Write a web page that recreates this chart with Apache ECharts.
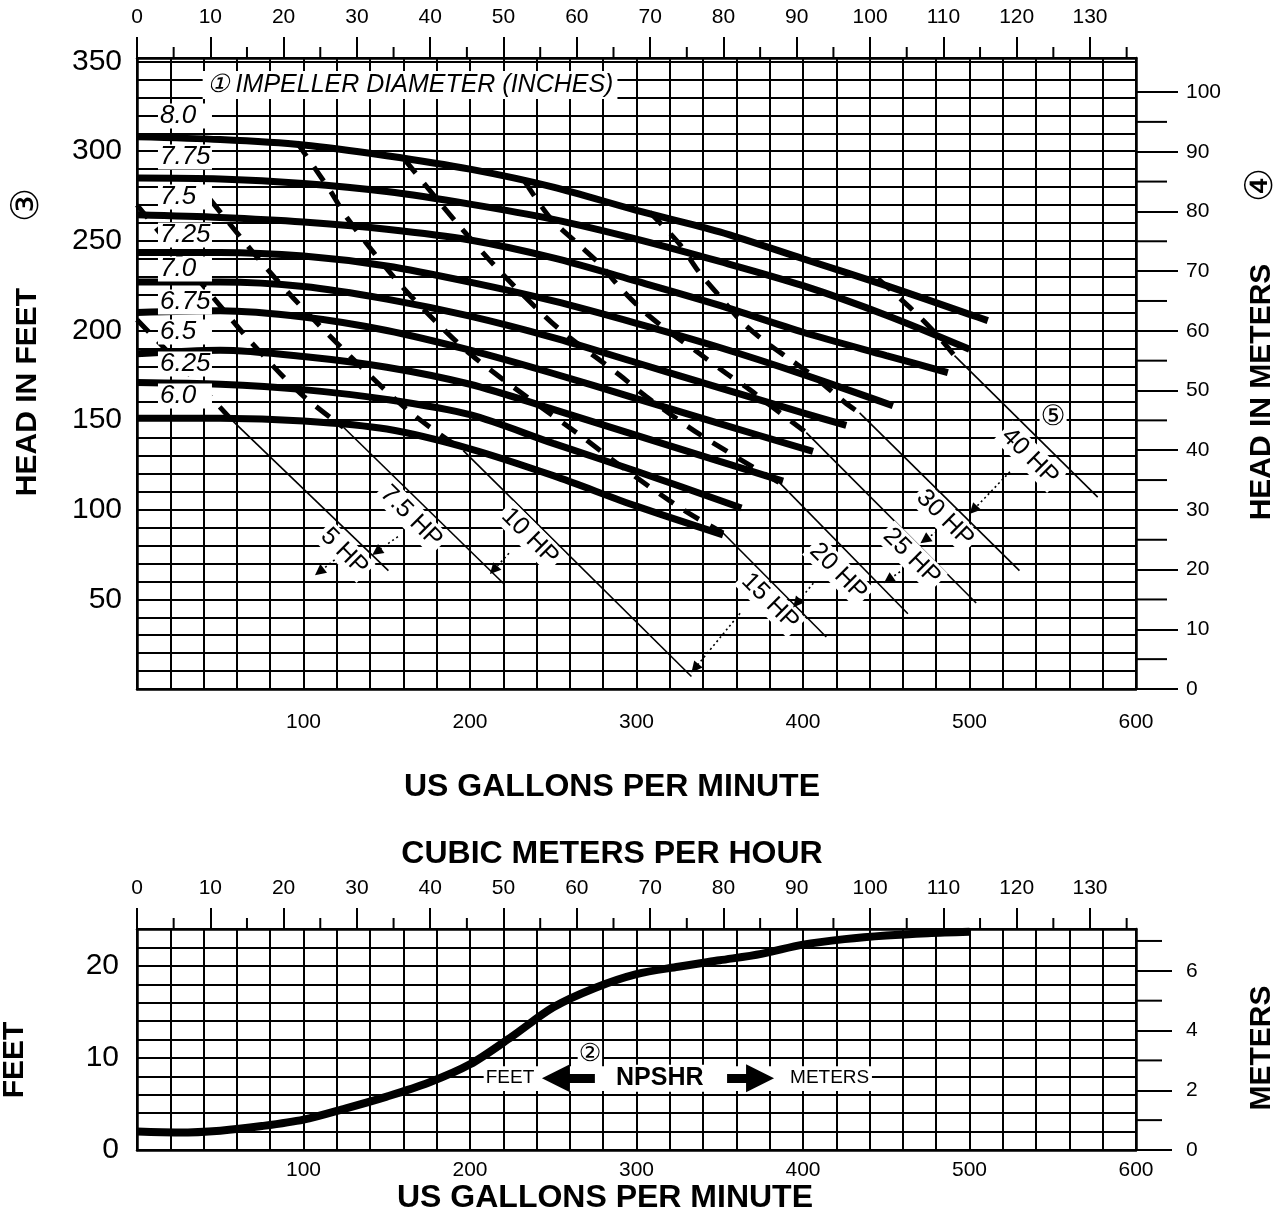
<!DOCTYPE html>
<html><head><meta charset="utf-8">
<script src="https://cdn.jsdelivr.net/npm/echarts@6/dist/echarts.min.js"></script>
<style>html,body{margin:0;padding:0;background:#fff}#c{width:1283px;height:1214px}</style>
</head><body><div id="c"></div>
<script>
// ---------- axis ranges / tick labels ----------
const GPM_PER_M3H = 4.40287;
const gpmMax = 600;
const headFtMax = 352;
const headMMax = 105.7;
const npshFtMax = 24;
const npshMMax = 7.4;
const gpmLabels = [100, 200, 300, 400, 500, 600];
const m3hMajor = [0,10,20,30,40,50,60,70,80,90,100,110,120,130];
const m3hMinor = [5,15,25,35,45,55,65,75,85,95,105,115,125,135];
const headFtLabels = [50,100,150,200,250,300,350];
const headMMajor = [0,10,20,30,40,50,60,70,80,90,100];
const headMMinor = [5,15,25,35,45,55,65,75,85,95];
const npshFtLabels = [0,10,20];
const npshMMajor = [0,2,4,6];
const npshMMinor = [1,3,5,7];

// ---------- impeller curves [GPM, feet] ----------
const impellerNames = ['8.0','7.75','7.5','7.25','7.0','6.75','6.5','6.25','6.0'];
const imp80  = [[0,308],[50,306.5],[100,303.5],[150,297.5],[200,290],[250,280],[300,267],[350,255],[400,240],[450,225],[500,209],[511,205.5]];
const imp775 = [[0,285],[50,284.5],[100,282],[150,277.5],[200,270.5],[250,262],[300,251],[350,238.5],[400,225],[450,208.5],[500,189.5]];
const imp75  = [[0,264.5],[50,263],[100,260.5],[150,256.5],[200,250.5],[250,240.5],[300,227.5],[350,214],[400,199],[450,186],[487,176.5]];
const imp725 = [[0,243.5],[50,243.5],[100,241.5],[150,236],[200,227],[250,216.5],[300,204],[350,190.5],[400,175.5],[454,158]];
const imp70  = [[0,227],[50,227],[100,224.5],[150,217.5],[200,208],[250,196],[300,182],[350,168],[400,154],[426,147]];
const imp675 = [[0,210],[50,211],[100,207.5],[150,200],[200,189],[250,176],[300,162],[350,148],[406,132.5]];
const imp65  = [[0,187],[50,189],[100,185.5],[150,179.5],[200,170],[250,156],[300,141.5],[350,127],[388,116]];
const imp625 = [[0,171],[50,170],[100,167],[150,161.5],[200,153],[250,137],[300,121.5],[363,101]];
const imp60  = [[0,151],[50,151],[100,149.5],[150,145],[200,134],[250,119],[300,102],[352,86]];
const impLabelX = 12.6;
const impLabelY = [319.6,296.8,274.5,253.3,234.3,215.9,199.2,181.3,163.4];

// ---------- horsepower lines [GPM, feet]: dashed part, thin leader part ----------
const hpA_dash = [[0,206],[29,178],[57,150]];
const hpA_thin = [[57,150],[151,66]];
const hpB_dash = [[0,270],[23,244],[47,217],[68,194],[98,165],[124,146]];
const hpB_thin = [[124,146],[220,59]];
const hpC_dash = [[44,273],[72,241],[94,218],[120,193],[162,156],[196,133]];
const hpC_thin = [[196,133],[333,7]];
const hpD_dash = [[96,305],[116,278],[126,263],[154,230],[174,210],[200,187],[234,163],[264,143],[294,122],[328,100],[352,87]];
const hpD_thin = [[352,87],[414,29]];
const hpE_dash = [[161,295],[193,259],[218,233],[246,207],[260,196],[290,175],[306,163],[338,142],[386,115]];
const hpE_thin = [[386,115],[463,42]];
const hpF_dash = [[233,283],[248,263],[264,249],[278,237],[290,224],[304,211],[320,199],[338,187],[354,176],[368,167],[382,157],[402,143]];
const hpF_thin = [[402,143],[504,48]];
const hpG_dash = [[308,266],[326,248],[338,232],[350,219],[363,205],[377,194],[392,184],[407,174],[425,160],[434,154]];
const hpG_thin = [[434,154],[530,66]];
const hpH_dash = [[445,229],[464,213],[478,200],[491,186]];
const hpH_thin = [[491,186],[577,107]];

const hpNames = ['5 HP','7.5 HP','10 HP','15 HP','20 HP','25 HP','30 HP','40 HP'];
const hpLabelX = [124.5,164.7,236,380.2,421.2,465.3,485.3,536.3];
const hpLabelY = [76.6,96.1,85,48.7,65.4,73.8,95.2,129.6];
const hpArrowFrom = [[118.7,72],[156.7,85],[223.4,75.7],[362.2,42.2],[406.2,59],[458.3,65.4],[480.2,87.8],[524.3,121.2]];
const hpArrowTo   = [[109.5,65.4],[144,76.6],[214.2,66.4],[335.1,11.6],[396.2,47.8],[451.2,60.8],[473.2,83.1],[502.3,99.9]];

// ---------- NPSHR [GPM, feet] ----------
const npshGpm = [0,25,50,75,100,125,150,175,200,225,250,275,300,325,350,375,400,425,450,475,500];
const npshFt  = [2.0,1.9,2.1,2.6,3.3,4.5,5.8,7.3,9.3,12.3,15.5,17.6,19.1,19.9,20.6,21.3,22.3,22.9,23.3,23.55,23.7];

// ---------- annotations ----------
const impTitle = {text:'\u2460 IMPELLER DIAMETER (INCHES)', x:164, y:337};
const circle5 = {text:'\u2464', x:550.2, y:151.2};
const npshBand = [208.4, 9.1, 441.4, 6.4];
const npshTexts = [
  {text:'FEET', x:224, y:7.8, bold:false, size:19},
  {text:'NPSHR', x:314, y:7.8, bold:true, size:25},
  {text:'METERS', x:416, y:7.8, bold:false, size:19}
];
const npshCircle2 = {text:'\u2461', x:272, y:10.4};
const npshArrowLeft = [[275,7.8],[251.6,7.8]];
const npshArrowRight = [[354.4,7.8],[374.2,7.8]];

// =====================================================
const FONT = '"Liberation Sans", Arial, Helvetica, sans-serif';
const BLK = '#000';
const chart = echarts.init(document.getElementById('c'), null, {renderer:'canvas'});

function gridLine(){ return {show:true, lineStyle:{color:BLK, width:2}}; }
function axLine(){ return {show:true, onZero:false, lineStyle:{color:BLK, width:2.5}}; }
const lblBase = {color:BLK, fontFamily:FONT};

function m3hAxis(grid){
  return {
    type:'value', gridIndex:grid, position:'top', min:0, max:gpmMax / GPM_PER_M3H, interval:10,
    axisLine: axLine(),
    axisTick:{show:true, inside:false, length:21, customValues:m3hMajor, lineStyle:{color:BLK, width:2}},
    axisLabel: Object.assign({show:true, fontSize:21, margin:30, customValues:m3hMajor,
      formatter: v => m3hMajor.indexOf(Math.round(v*1000)/1000) >= 0 ? String(v) : ''}, lblBase),
    splitLine:{show:false}
  };
}
function mAxis(grid, maxV, majorV, lMaj){
  return {
    type:'value', gridIndex:grid, position:'right', min:0, max:maxV, interval: majorV[1]-majorV[0],
    axisLine: axLine(),
    axisTick:{show:true, inside:false, length:lMaj, customValues:majorV, lineStyle:{color:BLK, width:2}},
    axisLabel: Object.assign({show:true, fontSize:21, margin:50, align:'left', customValues:majorV,
      formatter: v => majorV.indexOf(v) >= 0 ? String(v) : ''}, lblBase),
    splitLine:{show:false}
  };
}

const xAxis = [
  {type:'value', gridIndex:0, position:'bottom', min:0, max:gpmMax, interval:20,
   axisLine:axLine(), axisTick:{show:false},
   axisLabel:Object.assign({fontSize:21, margin:23, formatter: v => gpmLabels.indexOf(v)>=0 ? String(v) : ''}, lblBase),
   splitLine:gridLine()},
  m3hAxis(0),
  {type:'value', gridIndex:1, position:'bottom', min:0, max:gpmMax, interval:20,
   axisLine:axLine(), axisTick:{show:false},
   axisLabel:Object.assign({fontSize:21, margin:10, formatter: v => gpmLabels.indexOf(v)>=0 ? String(v) : ''}, lblBase),
   splitLine:gridLine()},
  m3hAxis(1)
];
const yAxis = [
  {type:'value', gridIndex:0, position:'left', min:0, max:headFtMax, interval:10,
   axisLine:axLine(), axisTick:{show:false},
   axisLabel:Object.assign({fontSize:30, margin:15, formatter: v => headFtLabels.indexOf(v)>=0 ? String(v) : ''}, lblBase),
   splitLine:gridLine()},
  mAxis(0, headMMax, headMMajor, 42),
  {type:'value', gridIndex:1, position:'left', min:0, max:npshFtMax, interval:2,
   axisLine:axLine(), axisTick:{show:false},
   axisLabel:Object.assign({fontSize:30, margin:18, formatter: v => npshFtLabels.indexOf(v)>=0 ? String(v) : ''}, lblBase),
   splitLine:gridLine()},
  mAxis(1, npshMMax, npshMMajor, 36)
];

const series = [];
function addLine(data, width, type, z, xi, yi){
  series.push({type:'line', xAxisIndex:xi||0, yAxisIndex:yi||0, data:data,
    smooth:0.3, showSymbol:false, symbol:'none', silent:true,
    lineStyle:{color:BLK, width:width, type:type||'solid', cap:'butt'}, z:z});
}
[imp80,imp775,imp75,imp725,imp70,imp675,imp65,imp625,imp60].forEach(d => addLine(d, 7, 'solid', 6));
[hpA_dash,hpB_dash,hpC_dash,hpD_dash,hpE_dash,hpF_dash,hpG_dash,hpH_dash].forEach(d => addLine(d, 5, [17,13], 5));
[hpA_thin,hpB_thin,hpC_thin,hpD_thin,hpE_thin,hpF_thin,hpG_thin,hpH_thin].forEach(d => addLine(d, 1.6, 'solid', 5));

// minor ticks drawn outside the plot (right meters axis, top m3/h axis)
function minorTicks(xi, yi, pts, dx, dy){
  series.push({type:'custom', xAxisIndex:xi, yAxisIndex:yi, silent:true, clip:false, z:3,
    data: pts,
    renderItem:(params, api) => {
      const p = api.coord([api.value(0), api.value(1)]);
      return {type:'line', shape:{x1:p[0], y1:p[1], x2:p[0]+dx, y2:p[1]+dy},
        style:{stroke:BLK, lineWidth:2}};
    }});
}
minorTicks(0, 1, headMMinor.map(v => [gpmMax, v]), 31, 0);
minorTicks(1, 0, m3hMinor.map(v => [v, headFtMax]), 0, -11);
minorTicks(2, 3, npshMMinor.map(v => [gpmMax, v]), 26, 0);
minorTicks(3, 2, m3hMinor.map(v => [v, npshFtMax]), 0, -11);

function textScatter(xi, yi, data, label, z){
  series.push({type:'scatter', xAxisIndex:xi, yAxisIndex:yi, symbolSize:0, silent:true,
    itemStyle:{color:BLK, opacity:1}, z:z || 10, data:data,
    label:Object.assign({show:true, formatter:'{b}', color:BLK, opacity:1,
      textBorderWidth:0, textShadowBlur:0, fontFamily:FONT, backgroundColor:'#fff'}, label)});
}
// impeller diameter labels
textScatter(0, 0, impellerNames.map((n,i) => ({name:n, value:[impLabelX, impLabelY[i]]})),
  {position:'right', distance:0, fontStyle:'italic', fontSize:26, width:50, lineHeight:25, padding:[0,2,0,2]});
textScatter(0, 0, [{name:impTitle.text, value:[impTitle.x, impTitle.y]}],
  {position:'inside', fontStyle:'italic', fontSize:25, padding:[1,4], lineHeight:26});
textScatter(0, 0, [{name:circle5.text, value:[circle5.x, circle5.y]}],
  {position:'inside', fontSize:28, fontFamily:'"DejaVu Serif", "DejaVu Sans", serif', padding:[0,1]});
// HP labels (rotated)
textScatter(0, 0, hpNames.map((n,i) => ({name:n, value:[hpLabelX[i], hpLabelY[i]]})),
  {position:'inside', rotate:-45, fontSize:25, padding:[1,3]}, 12);
// HP leader arrows
series.push({type:'lines', coordinateSystem:'cartesian2d', xAxisIndex:0, yAxisIndex:0, silent:true, z:13,
  symbol:['none','triangle'], symbolSize:[0,11],
  lineStyle:{color:BLK, width:1.6, type:[2,3], opacity:1, curveness:0},
  data: hpArrowFrom.map((f,i) => ({coords:[f, hpArrowTo[i]]}))
});

// ---------- NPSHR chart ----------
series.push({type:'line', xAxisIndex:2, yAxisIndex:2,
  data: npshGpm.map((g,i) => [g, npshFt[i]]),
  smooth:0.3, showSymbol:false, symbol:'none', silent:true,
  lineStyle:{color:BLK, width:8, cap:'butt'}, z:6});
series.push({type:'custom', xAxisIndex:2, yAxisIndex:2, silent:true, z:8,
  data:[npshBand],
  renderItem:(params, api) => {
    const p1 = api.coord([api.value(0), api.value(1)]);
    const p2 = api.coord([api.value(2), api.value(3)]);
    return {type:'rect', shape:{x:p1[0], y:p1[1], width:p2[0]-p1[0], height:p2[1]-p1[1]},
      style:{fill:'#fff'}};
  }});
textScatter(2, 2, npshTexts.map(t => ({name:t.text, value:[t.x, t.y],
    label:{fontWeight: t.bold ? 'bold' : 'normal', fontSize:t.size}})),
  {position:'inside', padding:[1,2]});
textScatter(2, 2, [{name:npshCircle2.text, value:[npshCircle2.x, npshCircle2.y]}],
  {position:'inside', fontSize:25, fontFamily:'"DejaVu Sans", sans-serif', padding:[0,1]});
series.push({type:'lines', coordinateSystem:'cartesian2d', xAxisIndex:2, yAxisIndex:2, silent:true, z:11,
  symbol:['none','triangle'], symbolSize:[0,28],
  lineStyle:{color:BLK, width:9, type:'solid', opacity:1, curveness:0},
  data:[{coords:npshArrowLeft},{coords:npshArrowRight}]
});

function txt(text, x, y, font, rot){
  return {type:'text', x:x, y:y, rotation:rot||0, z:100,
    style:{text:text, font:font, fill:BLK, align:'center', verticalAlign:'middle'}};
}
const BOLD30 = 'bold 30px ' + FONT;
const BOLD32 = 'bold 32px ' + FONT;
const CIRC = '38px "DejaVu Sans", sans-serif';
const graphic = [
  txt('HEAD IN FEET', 28, 392, BOLD30, Math.PI/2),
  txt('\u2462', 28, 205, CIRC, Math.PI/2),
  txt('HEAD IN METERS', 1262, 392, BOLD30, Math.PI/2),
  txt('\u2463', 1262, 185, CIRC, Math.PI/2),
  txt('US GALLONS PER MINUTE', 612, 787, BOLD32),
  txt('CUBIC METERS PER HOUR', 612, 854, BOLD32),
  txt('FEET', 15, 1060, BOLD30, Math.PI/2),
  txt('METERS', 1262, 1048, BOLD30, Math.PI/2),
  txt('US GALLONS PER MINUTE', 605, 1198, BOLD32)
];

chart.setOption({
  animation:false,
  backgroundColor:'#fff',
  grid:[
    {left:137, top:58, width:999, height:631, containLabel:false},
    {left:137, top:929, width:999, height:221, containLabel:false}
  ],
  xAxis:xAxis, yAxis:yAxis, series:series, graphic:graphic
});
</script></body></html>
